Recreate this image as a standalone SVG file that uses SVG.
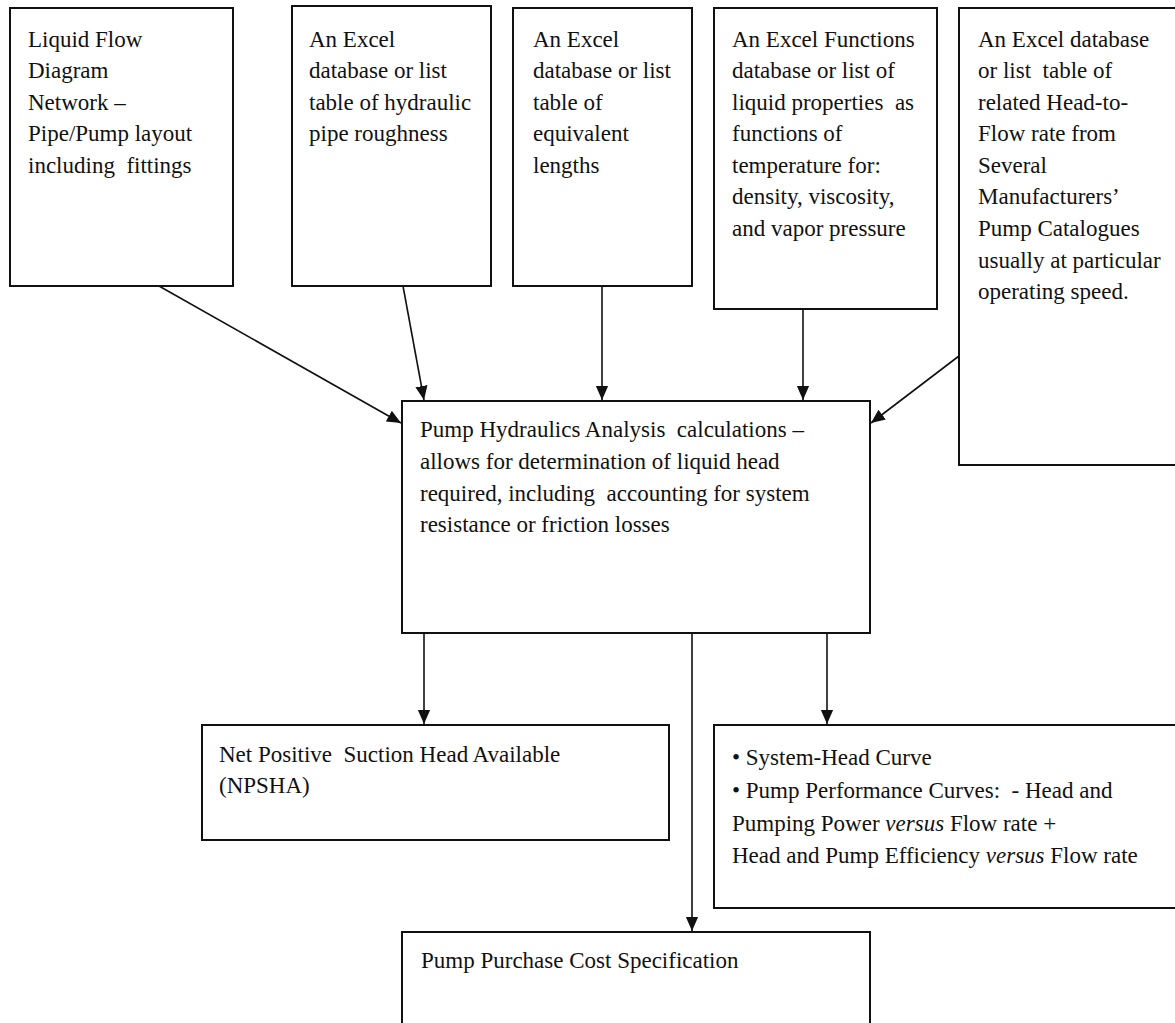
<svg xmlns="http://www.w3.org/2000/svg" width="1175" height="1023" viewBox="0 0 1175 1023">
<style>
.box{fill:#fff;stroke:#111;stroke-width:2}
.t{font-family:"Liberation Serif","Times New Roman",serif;font-size:23px;fill:#111;white-space:pre}
.c{stroke:#111;stroke-width:1.6;fill:none;marker-end:url(#ah)}
</style>
<defs>
<marker id="ah" markerWidth="14" markerHeight="16" refX="16" refY="7" viewBox="0 0 16 14" orient="auto" markerUnits="userSpaceOnUse">
<path d="M0,0 L16,7 L0,14 Z" fill="#111"/>
</marker>
</defs>
<rect width="1175" height="1023" fill="#fff"/>
<g id="connectors">
<line class="c" x1="159" y1="286" x2="401" y2="423"/>
<line class="c" x1="403" y1="286" x2="424" y2="400"/>
<line class="c" x1="602" y1="286" x2="602" y2="400"/>
<line class="c" x1="803" y1="309" x2="803" y2="400"/>
<line class="c" x1="959" y1="356" x2="871" y2="423"/>
<line class="c" x1="424" y1="633" x2="424" y2="724"/>
<line class="c" x1="692" y1="633" x2="692" y2="931"/>
<line class="c" x1="827" y1="633" x2="827" y2="724"/>
</g>
<g id="node-liquid-flow">
<rect class="box" x="10" y="8" width="223" height="278"/>
<text class="t"><tspan x="28" y="47">Liquid Flow</tspan><tspan x="28" y="78">Diagram</tspan><tspan x="28" y="110">Network –</tspan><tspan x="28" y="141">Pipe/Pump layout</tspan><tspan x="28" y="173">including  fittings</tspan></text>
</g>
<g id="node-roughness">
<rect class="box" x="292" y="6" width="199" height="280"/>
<text class="t"><tspan x="309" y="47">An Excel</tspan><tspan x="309" y="78">database or list</tspan><tspan x="309" y="110">table of hydraulic</tspan><tspan x="309" y="141">pipe roughness</tspan></text>
</g>
<g id="node-lengths">
<rect class="box" x="513" y="8" width="179" height="278"/>
<text class="t"><tspan x="533" y="47">An Excel</tspan><tspan x="533" y="78">database or list</tspan><tspan x="533" y="110">table of</tspan><tspan x="533" y="141">equivalent</tspan><tspan x="533" y="173">lengths</tspan></text>
</g>
<g id="node-properties">
<rect class="box" x="714" y="8" width="223" height="301"/>
<text class="t"><tspan x="732" y="47">An Excel Functions</tspan><tspan x="732" y="78">database or list of</tspan><tspan x="732" y="110">liquid properties  as</tspan><tspan x="732" y="141">functions of</tspan><tspan x="732" y="173">temperature for:</tspan><tspan x="732" y="204">density, viscosity,</tspan><tspan x="732" y="236">and vapor pressure</tspan></text>
</g>
<g id="node-catalogues">
<rect class="box" x="959" y="8" width="230" height="457"/>
<text class="t"><tspan x="978" y="47">An Excel database</tspan><tspan x="978" y="78">or list  table of</tspan><tspan x="978" y="110">related Head-to-</tspan><tspan x="978" y="141">Flow rate from</tspan><tspan x="978" y="173">Several</tspan><tspan x="978" y="204">Manufacturers’</tspan><tspan x="978" y="236">Pump Catalogues</tspan><tspan x="978" y="268">usually at particular</tspan><tspan x="978" y="299">operating speed.</tspan></text>
</g>
<g id="node-analysis">
<rect class="box" x="402" y="401" width="468" height="232"/>
<text class="t"><tspan x="420" y="437">Pump Hydraulics Analysis  calculations –</tspan><tspan x="420" y="469">allows for determination of liquid head</tspan><tspan x="420" y="501">required, including  accounting for system</tspan><tspan x="420" y="532">resistance or friction losses</tspan></text>
</g>
<g id="node-npsha">
<rect class="box" x="202" y="725" width="467" height="115"/>
<text class="t"><tspan x="219" y="762">Net Positive  Suction Head Available</tspan><tspan x="219" y="793">(NPSHA)</tspan></text>
</g>
<g id="node-curves">
<rect class="box" x="714" y="725" width="475" height="183"/>
<text class="t"><tspan x="732" y="765">• System-Head Curve</tspan><tspan x="732" y="798">• Pump Performance Curves:  - Head and</tspan><tspan x="732" y="831">Pumping Power <tspan font-style="italic">versus</tspan> Flow rate +</tspan><tspan x="732" y="863">Head and Pump Efficiency <tspan font-style="italic">versus</tspan> Flow rate</tspan></text>
</g>
<g id="node-cost">
<rect class="box" x="402" y="932" width="468" height="110"/>
<text class="t"><tspan x="421" y="968">Pump Purchase Cost Specification</tspan></text>
</g>
</svg>
